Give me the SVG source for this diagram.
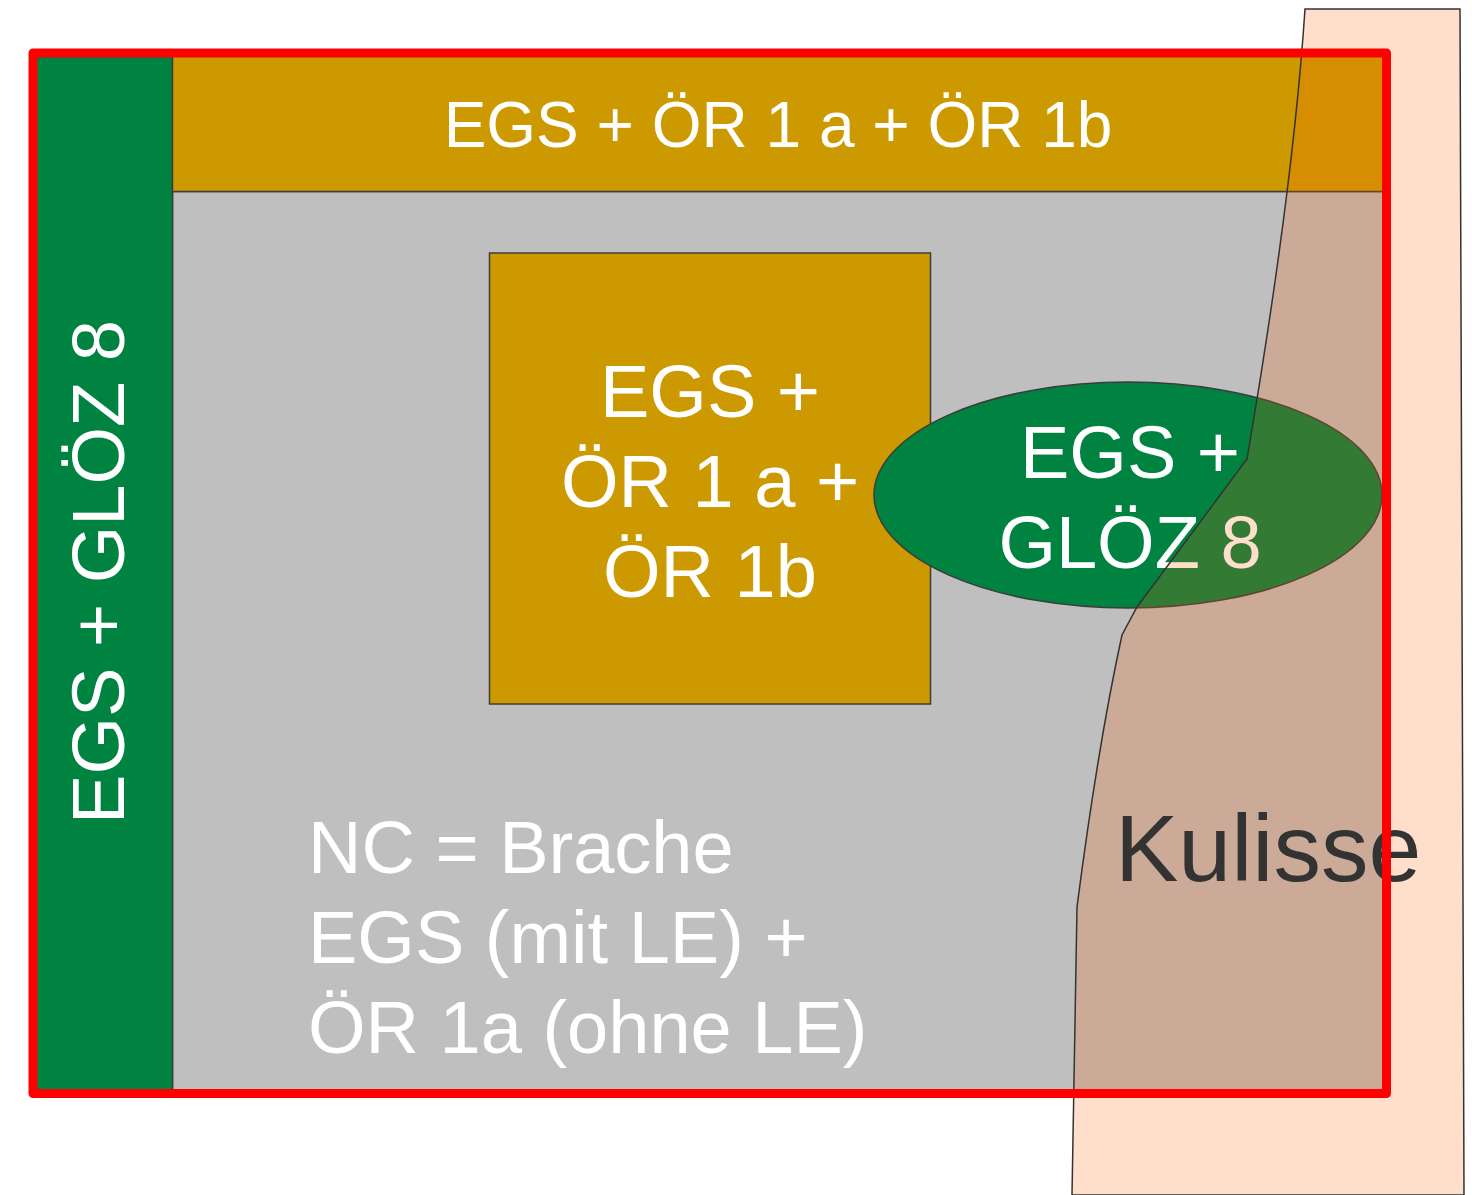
<svg xmlns="http://www.w3.org/2000/svg" width="1472" height="1195" viewBox="0 0 1472 1195">
  <style>
    .shape { stroke: #3c3c3c; stroke-width: 1.5; }
    .lbl { font-family: "Liberation Sans", Arial, sans-serif; fill: #ffffff; text-anchor: middle; }
    .lblL { font-family: "Liberation Sans", Arial, sans-serif; fill: #ffffff; text-anchor: start; }
  </style>
  <rect x="0" y="0" width="1472" height="1195" fill="#ffffff"/>

  <g id="field-grey">
    <rect class="shape" x="172.5" y="191.5" width="1214" height="902" fill="#bfbfbf"/>
    <text class="lblL" font-size="74" x="308" y="873">NC = Brache</text>
    <text class="lblL" font-size="74" x="308" y="963">EGS (mit LE) +</text>
    <text class="lblL" font-size="74" x="308" y="1053">ÖR 1a (ohne LE)</text>
  </g>

  <g id="strip-left">
    <rect class="shape" x="33" y="53" width="139.5" height="1040" fill="#008341"/>
    <text class="lbl" font-size="74" transform="translate(124,572) rotate(-90)">EGS + GLÖZ 8</text>
  </g>

  <g id="band-top">
    <rect class="shape" x="172.5" y="53" width="1214" height="138.5" fill="#cc9900"/>
    <text class="lbl" font-size="64" x="778" y="147">EGS + ÖR 1 a + ÖR 1b</text>
  </g>

  <g id="square-center">
    <rect class="shape" x="489.5" y="253" width="441" height="451" fill="#cc9900"/>
    <text class="lbl" font-size="74" x="710" y="417">EGS +</text>
    <text class="lbl" font-size="74" x="710" y="507">ÖR 1 a +</text>
    <text class="lbl" font-size="74" x="710" y="597">ÖR 1b</text>
  </g>

  <g id="ellipse-gloez">
    <ellipse class="shape" cx="1128" cy="495" rx="254" ry="113" fill="#008341"/>
    <text class="lbl" font-size="74" x="1130" y="478">EGS +</text>
    <text class="lbl" font-size="74" x="1130" y="568">GLÖZ 8</text>
  </g>

  <g id="kulisse">
    <path d="M1305,9 L1460,9 L1464,1195 L1072,1195 L1077,907 Q1098,745 1122,635 L1137,607 L1247,459 Q1293,190 1305,9 Z" fill="#ff5f00" fill-opacity="0.2" stroke="#333333" stroke-width="1.5"/>
    <text font-family="Liberation Sans, Arial, sans-serif" font-size="95" fill="#333333" x="1115" y="881">Kulisse</text>
  </g>

  <g id="border">
    <rect x="33" y="53" width="1353.5" height="1040.5" fill="none" stroke="#ff0000" stroke-width="9" stroke-linejoin="round"/>
  </g>
</svg>
